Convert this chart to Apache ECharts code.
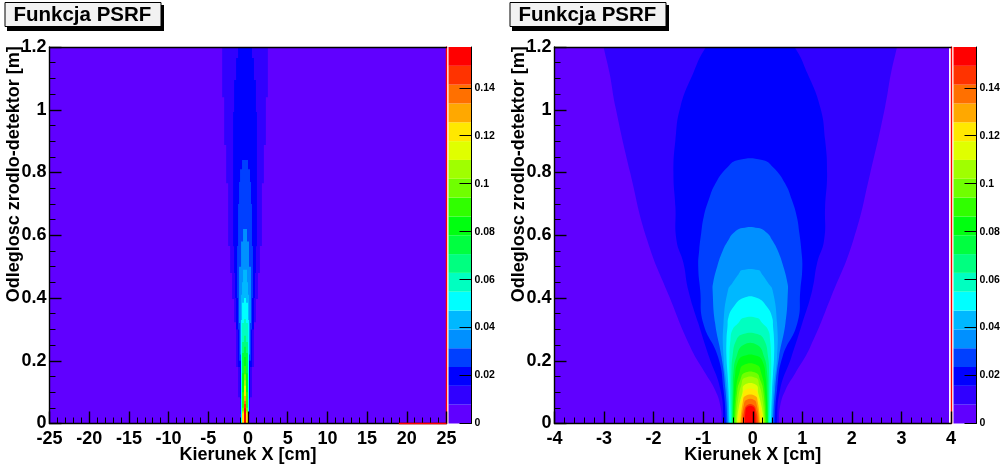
<!DOCTYPE html>
<html><head><meta charset="utf-8">
<style>html,body{margin:0;padding:0;background:#fff}#c{width:1005px;height:472px}</style>
<script src="https://cdn.jsdelivr.net/npm/echarts@6/dist/echarts.min.js"></script>
</head><body><div id="c"></div>
<script>
// Palette, from lowest to highest band
const paletteColors = ['#6000ff','#3000ff','#0000ff','#0040ff','#0090ff','#00b8ff','#00ffff','#00ffc0','#00ff80','#00ff40','#00ff10','#30ff00','#70ff00','#a0ff00','#e0ff00','#ffe800','#ffa800','#ff7000','#ff3300','#ff0000'];
const paletteTop = 0.157;
const titleText = 'Funkcja PSRF';
const xName = 'Kierunek X [cm]';
const yName = 'Odleglosc zrodlo-detektor [m]';
const colorTicks = [0,0.02,0.04,0.06,0.08,0.1,0.12,0.14];

// Left panel: blocky bands, each row is [top of step in m, half width in cm]
const leftCentre = -0.375;
const leftBands = [
 [[1.2,26]],
 [[1.2,2.875],[1.04,2.625],[.888,2.375],[.766,2.125],[.566,1.875],[.48,1.625],[.397,1.375],[.323,1.125],[.18,.875],[.084,.625],[.03,.5]],
 [[1.2,.875],[1.165,1.125],[1.095,1.375],[.993,1.5],[.565,1.375],[.48,1.25],[.40,1.125],[.30,.875],[.18,.625],[.08,.5]],
 [[.84,.375],[.81,.625],[.77,.75],[.70,.875],[.566,1.0],[.40,.875],[.30,.75],[.2,.5]],
 [[.62,.25],[.58,.5],[.5,.75],[.32,.625],[.22,.5]],
 [[.49,.25],[.45,.375],[.41,.5],[.2,.5]],
 [[.40,.125],[.385,.375],[.33,.5]],
 [[.333,.125],[.32,.375]],
 [[.28,.125],[.26,.375]],
 [[.245,.125],[.225,.375]],
 [[.212,.125],[.16,.375]],
 [[.183,.125],[.10,.375]],
 [[.157,.125],[.05,.375]],
 [[.138,.125],[.04,.375]],
 [[.12,.125],[.035,.375]],
 [[.106,.125],[.03,.375]],
 [[.088,.125]],
 [[.072,.125]],
 [[.062,.125]],
 [[.049,.125]]
];

// Right panel: smooth bands, each point is [half width in cm, height in m], top to bottom
const rightCentre = -0.05;
const rightBands = [
 [[4.01,1.2],[4.01,0]],
 [[3.05,1.27],[2.96,1.2],[2.84,1.117],[2.72,1.009],[2.42,.798],[2.08,.585],[1.63,.403],[1.21,.244],[.91,.161],[.71,.107],[.60,.053],[.58,0],[.58,-.05]],
 [[.55,1.26],[.89,1.2],[1.15,1.117],[1.41,1.009],[1.51,.904],[1.55,.798],[1.51,.69],[1.49,.585],[1.35,.512],[1.25,.425],[1.05,.32],[.83,.212],[.60,.107],[.54,0],[.54,-.05]],
 [[.24,.84],[.46,.817],[.70,.766],[.84,.712],[.94,.658],[.99,.607],[1.03,.553],[1.05,.499],[1.01,.425],[.95,.32],[.65,.212],[.54,.107],[.49,0],[.49,-.05]],
 [[.16,.623],[.34,.607],[.44,.585],[.55,.553],[.67,.499],[.75,.448],[.76,.425],[.71,.32],[.58,.212],[.50,.107],[.46,0],[.46,-.05]],
 [[.16,.489],[.24,.475],[.36,.448],[.45,.425],[.54,.32],[.54,.212],[.47,.107],[.44,0],[.44,-.05]],
 [[.14,.40],[.34,.371],[.44,.339],[.46,.308],[.48,.266],[.48,.212],[.46,.161],[.44,.107],[.42,0],[.42,-.05]],
 [[.14,.336],[.24,.32],[.36,.298],[.40,.266],[.42,.212],[.42,.161],[.41,.107],[.39,0],[.39,-.05]],
 [[.14,.285],[.28,.266],[.36,.212],[.38,.161],[.38,.107],[.37,0],[.37,-.05]],
 [[.14,.25],[.28,.212],[.34,.161],[.35,.107],[.36,0],[.36,-.05]],
 [[.14,.215],[.26,.193],[.31,.148],[.33,.107],[.35,0],[.35,-.05]],
 [[.14,.186],[.22,.161],[.29,.107],[.33,0],[.33,-.05]],
 [[.12,.161],[.20,.139],[.26,.107],[.31,0],[.31,-.05]],
 [[.12,.145],[.18,.123],[.24,.084],[.29,0],[.29,-.05]],
 [[.12,.123],[.16,.097],[.23,.053],[.27,0],[.27,-.05]],
 [[.10,.107],[.16,.084],[.22,.04],[.25,0],[.25,-.05]],
 [[.10,.088],[.15,.069],[.20,0],[.20,-.05]],
 [[.08,.075],[.13,.059],[.18,0],[.18,-.05]],
 [[.06,.059],[.12,.04],[.15,0],[.15,-.05]],
 [[.06,.053],[.10,.033],[.11,0],[.11,-.05]]
];

// Red stretch of the left panel's lower frame line, in cm
const leftRedBase = [19, 25];

const FONT = '"Liberation Sans", Arial, sans-serif';
const levelStep = paletteTop / paletteColors.length;

function stepOutline(rows, c) {
  const r = [], l = [];
  rows.forEach((row, k) => {
    const bottom = k + 1 < rows.length ? rows[k + 1][0] : 0;
    r.push([c + row[1], row[0]], [c + row[1], bottom]);
    l.push([c - row[1], row[0]], [c - row[1], bottom]);
  });
  return r.concat(l.reverse());
}
function smoothOutline(pts, c) {
  return pts.map(p => [c + p[0], p[1]]).concat(pts.slice().reverse().map(p => [c - p[0], p[1]]));
}

function bandSeries(axisIndex, outlines, smooth) {
  return {
    type: 'custom', xAxisIndex: axisIndex, yAxisIndex: axisIndex, clip: true, z: 2, silent: true,
    data: outlines.map((o, i) => [o[0][0], o[0][1], i]),
    encode: {x: 0, y: 1},
    renderItem(params, api) {
      const i = params.dataIndex;
      return {type: 'polygon',
        shape: {points: outlines[i].map(p => api.coord(p)), smooth: i > 0 ? smooth : 0, smoothConstraint: false},
        style: {fill: paletteColors[i], stroke: null}};
    }
  };
}

function plotAxes(gridIndex, xmin, xmax, xint, xsplit) {
  const line = {show: true, onZero: false, lineStyle: {color: '#000', width: 1.4}};
  const common = {axisTick: {show: true, inside: true, length: 12, lineStyle: {color: '#000', width: 1.4}},
    minorTick: {show: true, length: 6, lineStyle: {color: '#000', width: 1}}, splitLine: {show: false}, minorSplitLine: {show: false},
    axisLine: line, z: 10};
  const labelStyle = {color: '#000', fontFamily: FONT, fontWeight: 'bold', fontSize: 18};
  const nameStyle = {color: '#000', fontFamily: FONT, fontWeight: 'bold', fontSize: 18};
  const x = Object.assign({}, common, {type: 'value', gridIndex, min: xmin, max: xmax, interval: xint, position: 'bottom',
    minorTick: Object.assign({}, common.minorTick, {splitNumber: xsplit}),
    axisLabel: Object.assign({}, labelStyle, {margin: 7, showMinLabel: true, showMaxLabel: true}),
    name: xName, nameLocation: 'middle', nameGap: 22.5, nameMoveOverlap: false, nameTextStyle: nameStyle});
  const y = Object.assign({}, common, {type: 'value', gridIndex, min: 0, max: 1.2, interval: 0.2, position: 'left',
    minorTick: Object.assign({}, common.minorTick, {splitNumber: 4}),
    axisLabel: Object.assign({}, labelStyle, {margin: 3, verticalAlign: 'middle', formatter: v => String(+v.toFixed(1))}),
    name: yName, nameLocation: 'middle', nameRotate: 90, nameGap: 26.5, nameMoveOverlap: false,
    nameTextStyle: Object.assign({}, nameStyle, {padding: [0, 0, 0, 122]})});
  const top = {type: 'value', gridIndex, min: xmin, max: xmax, position: 'top', axisLine: line, axisTick: {show: false}, axisLabel: {show: false}, splitLine: {show: false}, z: 10};
  const right = {type: 'value', gridIndex, min: 0, max: 1.2, position: 'right', axisLine: {show: true, onZero: false, lineStyle: {color: '#ff0000', width: 1.4}}, axisTick: {show: false}, axisLabel: {show: false}, splitLine: {show: false}, z: 10};
  return {x: [x, top], y: [y, right]};
}

function colorAxes(gridIndex) {
  const x = {type: 'value', gridIndex, min: 0, max: 1, show: false};
  const y = {type: 'value', gridIndex, min: 0, max: paletteTop, position: 'right', z: 10,
    axisLine: {show: true, onZero: false, lineStyle: {color: '#000', width: 1}},
    axisTick: {show: true, inside: true, length: 12, lineStyle: {color: '#000', width: 1}, customValues: colorTicks},
    axisLabel: {color: '#000', fontFamily: FONT, fontWeight: 'bold', fontSize: 10.5, margin: 3, customValues: colorTicks, formatter: v => String(v)},
    splitLine: {show: false}};
  return {x, y};
}
function colorSeries(xi, yi) {
  return {
    type: 'custom', xAxisIndex: xi, yAxisIndex: yi, silent: true, z: 2,
    data: paletteColors.map((c, i) => [0, i * levelStep, 1, (i + 1) * levelStep]),
    renderItem(params, api) {
      const a = api.coord([api.value(0), api.value(1)]);
      const b = api.coord([api.value(2), api.value(3)]);
      return {type: 'rect', shape: {x: a[0], y: b[1], width: b[0] - a[0], height: a[1] - b[1]},
        style: {fill: paletteColors[params.dataIndex]}};
    }
  };
}

const a0 = plotAxes(0, -25, 25, 5, 5);
const a1 = plotAxes(1, -4, 4, 1, 5);
const c0 = colorAxes(2), c1 = colorAxes(3);
const titleStyle = {text: titleText, top: 2.5, padding: [2.5, 10, 1, 9], backgroundColor: '#f2f2f2', borderColor: '#000', borderWidth: 1,
  textStyle: {color: '#000', fontFamily: FONT, fontWeight: 'bold', fontSize: 20.5}};

const leftSeries = bandSeries(0, leftBands.map(b => stepOutline(b, leftCentre)), 0);
leftSeries.markLine = {silent: true, symbol: 'none', z: 11, animation: false, label: {show: false},
  lineStyle: {color: '#ff0000', width: 1.4, type: 'solid'},
  data: [[{coord: [leftRedBase[0], 0]}, {coord: [leftRedBase[1], 0]}]]};

const option = {
  animation: false, backgroundColor: '#fff',
  title: [Object.assign({left: 4.5}, titleStyle), Object.assign({left: 509.5}, titleStyle)],
  graphic: [
    {type: 'rect', left: 7, top: 5, shape: {width: 157, height: 26}, style: {fill: '#000'}, z: 0},
    {type: 'rect', left: 512, top: 5, shape: {width: 157, height: 26}, style: {fill: '#000'}, z: 0}
  ],
  grid: [
    {left: 49.5, top: 47, width: 397, height: 376.5},
    {left: 554.5, top: 47, width: 396.5, height: 376.5},
    {left: 448.5, top: 47, width: 23, height: 376.5},
    {left: 953.5, top: 47, width: 23, height: 376.5}
  ],
  xAxis: [...a0.x, ...a1.x, c0.x, c1.x],
  yAxis: [...a0.y, ...a1.y, c0.y, c1.y],
  series: [
    leftSeries,
    bandSeries(2, rightBands.map(b => smoothOutline(b, rightCentre)), 0.5),
    colorSeries(4, 4),
    colorSeries(5, 5)
  ]
};
echarts.init(document.getElementById('c'), null, {renderer: 'canvas'}).setOption(option);
</script></body></html>
